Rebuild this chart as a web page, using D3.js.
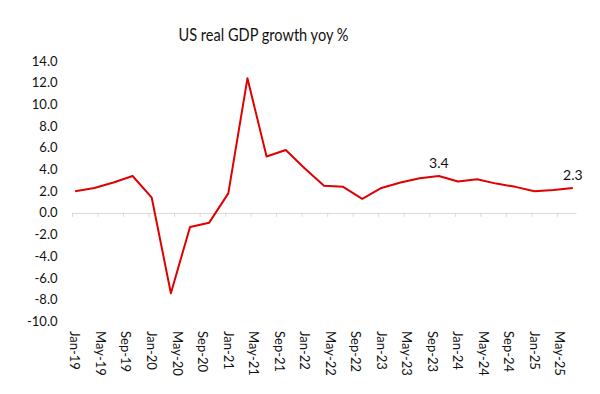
<!DOCTYPE html>
<html>
<head>
<meta charset="utf-8">
<script src="https://cdn.jsdelivr.net/npm/d3@7"></script>
<style>
  html, body { margin: 0; padding: 0; background: #fff; }
  svg { display: block; font-family: Lato, "Open Sans", sans-serif; }
</style>
</head>
<body>
<svg id="chart" width="600" height="394"></svg>
<script>
// ---- data ----
const quarters = ["Jan-19","Apr-19","Jul-19","Oct-19","Jan-20","Apr-20","Jul-20","Oct-20",
  "Jan-21","Apr-21","Jul-21","Oct-21","Jan-22","Apr-22","Jul-22","Oct-22",
  "Jan-23","Apr-23","Jul-23","Oct-23","Jan-24","Apr-24","Jul-24","Oct-24",
  "Jan-25","Apr-25","Jul-25"];
const gdpYoy = [2.0, 2.3, 2.8, 3.4, 1.4, -7.4, -1.3, -0.9,
  1.8, 12.4, 5.2, 5.8, 4.1, 2.5, 2.4, 1.3,
  2.3, 2.8, 3.2, 3.4, 2.9, 3.1, 2.7, 2.4,
  2.0, 2.1, 2.3];
const tickLabels = ["Jan-19","May-19","Sep-19","Jan-20","May-20","Sep-20","Jan-21","May-21",
  "Sep-21","Jan-22","May-22","Sep-22","Jan-23","May-23","Sep-23","Jan-24","May-24",
  "Sep-24","Jan-25","May-25"];
const yTicks = [14, 12, 10, 8, 6, 4, 2, 0, -2, -4, -6, -8, -10];
const annotated = ["Oct-23", "Jul-25"];
const title = "US real GDP growth yoy %";

// ---- helpers ----
const monNames = ["Jan","Feb","Mar","Apr","May","Jun","Jul","Aug","Sep","Oct","Nov","Dec"];
function monthIndex(lbl) {
  const [m, y] = lbl.split("-");
  return (2000 + (+y) - 2019) * 12 + monNames.indexOf(m);
}

const svg = d3.select("#chart");
const x = d3.scaleLinear().domain([0, 79]).range([72, 576]);
const y = d3.scaleLinear().domain([-10, 14]).range([321.4, 61]);

// title
svg.append("text")
  .attr("x", 263.5).attr("y", 41)
  .attr("text-anchor", "middle")
  .attr("font-size", 17).attr("fill", "#111")
  .attr("textLength", 170).attr("lengthAdjust", "spacingAndGlyphs")
  .text(title);

// y labels
svg.append("g").selectAll("text").data(yTicks).join("text")
  .attr("x", 57.5).attr("y", d => y(d))
  .attr("dy", "0.35em")
  .attr("text-anchor", "end")
  .attr("font-size", 13).attr("fill", "#111")
  .text(d => d.toFixed(1));

// x axis at zero
const tickVals = tickLabels.map(monthIndex);
const xAxis = d3.axisBottom(x).tickValues(tickVals).tickSize(4).tickSizeOuter(0).tickFormat("");
const gx = svg.append("g").attr("transform", `translate(0,${y(0)})`).call(xAxis);
gx.select(".domain").attr("stroke", "#d9d9d9").attr("stroke-width", 1);
gx.selectAll(".tick line").attr("stroke", "#d9d9d9");

// x labels (bottom, rotated)
svg.append("g").selectAll("text").data(tickLabels).join("text")
  .attr("transform", d => `translate(${x(monthIndex(d)) + 3},331) rotate(90)`)
  .attr("dy", "0.35em")
  .attr("text-anchor", "start")
  .attr("font-size", 13).attr("fill", "#111")
  .text(d => d);

// line
const pts = quarters.map((q, i) => ({ q, v: gdpYoy[i], m: monthIndex(q) + 0.5 }));
svg.append("path")
  .datum(pts)
  .attr("fill", "none")
  .attr("stroke", "#e00000")
  .attr("stroke-width", 2)
  .attr("stroke-linejoin", "round")
  .attr("d", d3.line().x(d => x(d.m)).y(d => y(d.v)));

// annotations
svg.append("g").selectAll("text").data(pts.filter(d => annotated.includes(d.q))).join("text")
  .attr("x", d => x(d.m)).attr("y", d => y(d.v) - 8)
  .attr("text-anchor", "middle")
  .attr("font-size", 14).attr("fill", "#111")
  .text(d => d.v.toFixed(1));
</script>
</body>
</html>
